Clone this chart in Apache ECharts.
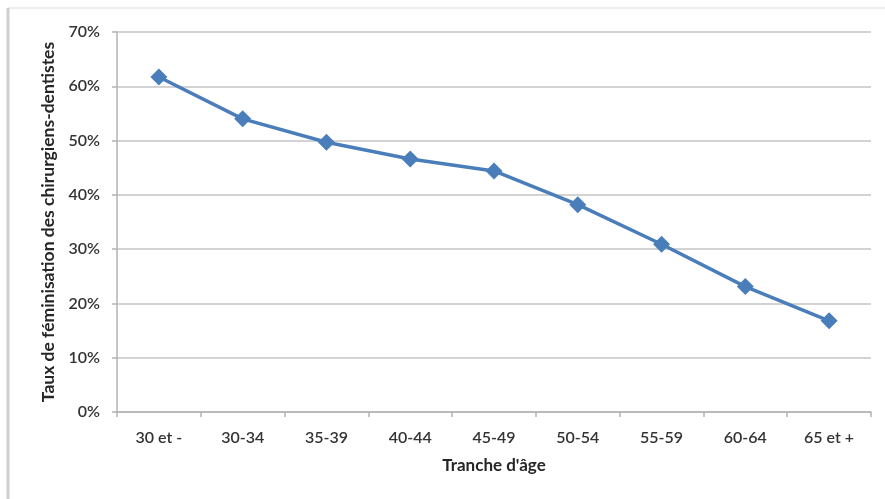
<!DOCTYPE html>
<html>
<head>
<meta charset="utf-8">
<script src="https://cdn.jsdelivr.net/npm/echarts@6/dist/echarts.min.js"></script>
<style>
  html, body { margin: 0; padding: 0; background: #fff; }
  #chart { width: 885px; height: 499px; }
</style>
</head>
<body>
<div id="chart"></div>
<script>
// Age bands and share of women among dental surgeons (%)
const ageBands = ['30 et -', '30-34', '35-39', '40-44', '45-49', '50-54', '55-59', '60-64', '65 et +'];
const femaleShare = [61.7, 54.0, 49.7, 46.6, 44.4, 38.2, 30.9, 23.1, 16.8];
const yTicks = { min: 0, max: 70, step: 10 };

const axisTextColor = '#333333';
const fontFamily = 'Lato, "Open Sans", sans-serif';

const chart = echarts.init(document.getElementById('chart'), null, { renderer: 'canvas' });

chart.setOption({
  backgroundColor: '#ffffff',
  animation: false,
  graphic: [
    { type: 'line', shape: { x1: 8, y1: 8, x2: 885, y2: 8 }, style: { stroke: '#ececec', lineWidth: 2 } },
    { type: 'line', shape: { x1: 8, y1: 8, x2: 8, y2: 499 }, style: { stroke: '#cfcfcf', lineWidth: 3 } }
  ],
  grid: { left: 117, right: 14, top: 32, bottom: 87, containLabel: false },
  xAxis: {
    type: 'category',
    data: ageBands,
    boundaryGap: true,
    name: "Tranche d'âge",
    nameLocation: 'middle',
    nameGap: 45,
    nameTextStyle: { fontFamily, fontWeight: 'bold', fontSize: 17, color: '#262626' },
    axisLine: { lineStyle: { color: '#b3b3b3', width: 1.5 } },
    axisTick: { show: true, alignWithLabel: false, length: 5, lineStyle: { color: '#b3b3b3', width: 1.5 } },
    axisLabel: { fontFamily, fontSize: 16, fontWeight: 600, color: axisTextColor, margin: 18 },
    splitLine: { show: false }
  },
  yAxis: {
    type: 'value',
    min: yTicks.min,
    max: yTicks.max,
    interval: yTicks.step,
    name: 'Taux de féminisation des chirurgiens-dentistes',
    nameLocation: 'middle',
    nameGap: 59,
    nameRotate: 90,
    nameTextStyle: { fontFamily, fontWeight: 'bold', fontSize: 17.5, color: '#262626' },
    axisLine: { show: true, lineStyle: { color: '#b3b3b3', width: 1.5 } },
    axisTick: { show: true, length: 5, lineStyle: { color: '#b3b3b3', width: 1.5 } },
    axisLabel: { fontFamily, fontSize: 16, fontWeight: 600, color: axisTextColor, margin: 17, formatter: v => v + '%' },
    splitLine: { show: true, lineStyle: { color: '#c4c4c4', width: 1.5 } }
  },
  series: [{
    type: 'line',
    data: femaleShare,
    symbol: 'diamond',
    symbolSize: 17,
    lineStyle: { color: '#4a7ebb', width: 3.5 },
    itemStyle: { color: '#4a7ebb' },
    z: 3
  }]
});
</script>
</body>
</html>
